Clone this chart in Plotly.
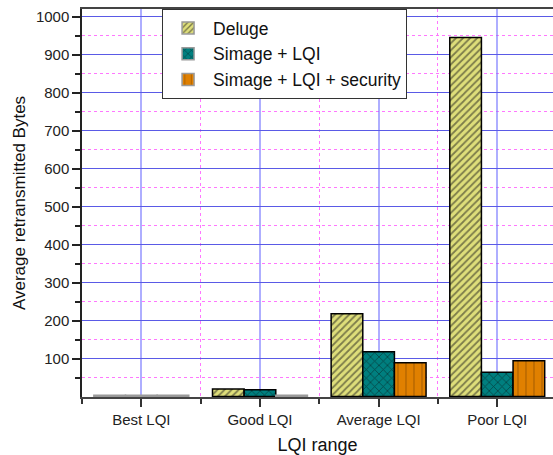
import plotly.graph_objects as go

# LQI ranges on the x axis
categories = ["Best LQI", "Good LQI", "Average LQI", "Poor LQI"]

# Average retransmitted bytes per scheme
deluge = [3, 20, 218, 945]
simage_lqi = [3, 18, 118, 64]
simage_lqi_sec = [3, 3, 89, 94]

# y axis: labelled every 100, minor every 50
y_ticks = [100, 200, 300, 400, 500, 600, 700, 800, 900, 1000]
y_minor = [50, 150, 250, 350, 450, 550, 650, 750, 850, 950]
# range nudged so the 1px grid lines land on pixel centres
y_range = [-1.3158, 1019.7368]

FONT = "Arial, Liberation Sans, sans-serif"
x_pos = list(range(len(categories)))


def outline(values):
    # very small bars read as a thin grey line
    return ["#9a9a9a" if v < 5 else "#000000" for v in values]


series = [
    ("Deluge", deluge, "#DEDE7A", "/", "#1a1a1a", 5, 0.35),
    ("Simage + LQI", simage_lqi, "#007F7F", "x", "#0a0a0a", 6, 0.25),
    ("Simage + LQI + security", simage_lqi_sec, "#E08000", "|", "#7a4200", 8, 0.15),
]

fig = go.Figure()
for name, vals, bg, shape, fg, size, sol in series:
    fig.add_trace(go.Bar(
        x=x_pos, y=vals, name=name,
        marker=dict(
            color=bg,
            line=dict(color=outline(vals), width=1.5),
            pattern=dict(shape=shape, fgcolor=fg, bgcolor=bg,
                         size=size, solidity=sol, fillmode="overlay"),
        ),
    ))

fig.update_layout(
    width=553, height=455,
    margin=dict(l=82, r=0, t=9, b=58),
    paper_bgcolor="white", plot_bgcolor="white",
    barmode="group", bargap=0.2, bargroupgap=0,
    font=dict(family=FONT, size=15, color="#111111"),
    showlegend=True,
    legend=dict(
        x=0.17, y=1, xanchor="left", yanchor="top",
        bgcolor="white", bordercolor="#333333", borderwidth=1,
        font=dict(family=FONT, size=17.5, color="#111111"),
        tracegroupgap=0, itemwidth=40,
    ),
)

fig.update_xaxes(
    range=[-0.5, 3.47],
    tickmode="array", tickvals=x_pos, ticktext=categories,
    tickfont=dict(family=FONT, size=15, color="#222222"),
    ticks="outside", ticklen=8, tickwidth=2, tickcolor="#333333",
    showline=True, linecolor="#444444", linewidth=2, mirror=True,
    showgrid=True, gridcolor="rgba(120,120,255,0.6)", gridwidth=2,
    zeroline=False,
    minor=dict(tick0=0.5, dtick=1, ticks="outside", ticklen=5,
               tickcolor="#333333", tickwidth=1.5,
               showgrid=True, gridcolor="#FF77FF", griddash="dot", gridwidth=1),
    title=dict(text="LQI range", font=dict(family=FONT, size=18, color="#111111"),
               standoff=12),
)

fig.update_yaxes(
    range=y_range,
    tickmode="array", tickvals=y_ticks,
    tickfont=dict(family=FONT, size=15, color="#222222"),
    ticks="outside", ticklen=8, tickwidth=1.5, tickcolor="#222222",
    showline=True, linecolor="#222222", linewidth=1.5,
    showgrid=True, gridcolor="#5a5ae6", gridwidth=1,
    zeroline=False,
    minor=dict(tickvals=y_minor, ticks="outside", ticklen=5,
               tickcolor="#222222", tickwidth=1.5,
               showgrid=True, gridcolor="#FF77FF", griddash="dot", gridwidth=1),
    title=dict(text="Average retransmitted Bytes",
               font=dict(family=FONT, size=17, color="#111111"), standoff=6),
)

fig.write_html("out.html")
